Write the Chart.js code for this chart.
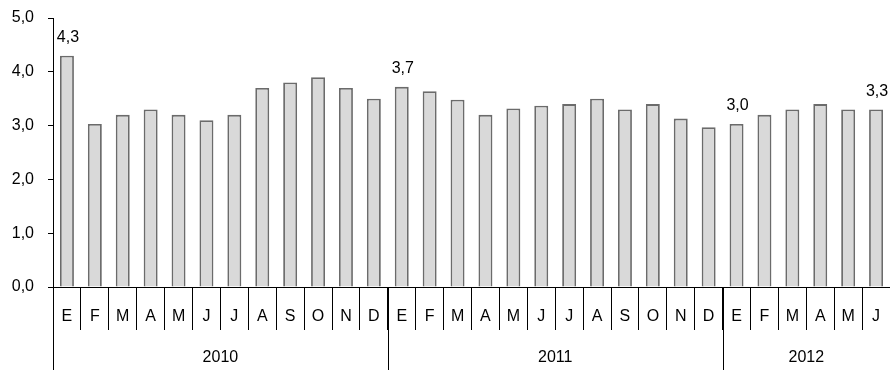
<!DOCTYPE html>
<html>
<head>
<meta charset="utf-8">
<script src="https://cdn.jsdelivr.net/npm/chart.js@4/dist/chart.umd.min.js"></script>
<style>
html,body{margin:0;padding:0;background:#fff;}
#wrap{width:890px;height:370px;position:relative;}
</style>
</head>
<body>
<div id="wrap"><canvas id="c"></canvas></div>
<script>
const months = ['E','F','M','A','M','J','J','A','S','O','N','D',
                'E','F','M','A','M','J','J','A','S','O','N','D',
                'E','F','M','A','M','J'];
const values = [4.3,3.03,3.2,3.3,3.2,3.1,3.2,3.7,3.8,3.9,3.7,3.5,
                3.72,3.64,3.48,3.2,3.32,3.37,3.4,3.5,3.3,3.4,3.13,2.97,
                3.03,3.2,3.3,3.4,3.3,3.3];
const years = ['2010','2011','2012'];
const yearCounts = [12,12,6];
const labeledIdx = [0,12,24,29];
const yTicks = [0,1,2,3,4,5];

const FONT = '"Liberation Sans", Arial, sans-serif';
const fmt = v => v.toFixed(1).replace('.', ',');

const extras = {
  id: 'extras',
  afterDraw(chart) {
    const ctx = chart.ctx;
    const xs = chart.scales.x;
    const area = chart.chartArea;
    const meta = chart.getDatasetMeta(0);
    ctx.save();
    let start = 0;
    const half = (xs.getPixelForValue(1) - xs.getPixelForValue(0)) / 2;
    ctx.strokeStyle = '#000';
    ctx.lineWidth = 1;
    ctx.fillStyle = '#000';
    ctx.font = '16px ' + FONT;
    ctx.textAlign = 'center';
    ctx.textBaseline = 'middle';
    years.forEach((y, i) => {
      const left = xs.getPixelForValue(start) - half;
      const right = xs.getPixelForValue(start + yearCounts[i] - 1) + half;
      const lx = Math.round(left) + 0.5;
      ctx.beginPath();
      ctx.moveTo(lx, area.bottom);
      ctx.lineTo(lx, chart.height);
      ctx.stroke();
      ctx.fillText(y, (left + right) / 2, 358);
      start += yearCounts[i];
    });
    labeledIdx.forEach(i => {
      const bar = meta.data[i];
      ctx.fillText(fmt(values[i]), bar.x + 1, bar.y - 18);
    });
    ctx.restore();
  }
};

new Chart(document.getElementById('c'), {
  type: 'bar',
  data: {
    labels: months,
    datasets: [{
      data: values,
      backgroundColor: '#d9d9d9',
      borderColor: '#6b6b6b',
      borderWidth: 1.8,
      borderSkipped: 'bottom',
      categoryPercentage: 1,
      barPercentage: 0.5
    }]
  },
  options: {
    responsive: true,
    maintainAspectRatio: false,
    animation: false,
    layout: { padding: { top: 18, right: 0, left: 0, bottom: 0 } },
    plugins: { legend: { display: false }, tooltip: { enabled: false } },
    scales: {
      x: {
        offset: true,
        grid: { offset: true, drawOnChartArea: false, drawTicks: true, tickLength: 43, color: '#000', lineWidth: 1 },
        border: { display: true, color: '#000', width: 1 },
        ticks: { color: '#000', font: { family: FONT, size: 16 }, padding: -23, maxRotation: 0, autoSkip: false },
        afterFit: s => { s.height = 83; s.paddingLeft = 0; s.paddingRight = 0; }
      },
      y: {
        min: 0, max: 5,
        afterBuildTicks: s => { s.ticks = yTicks.map(v => ({ value: v })); },
        grid: { drawOnChartArea: false, drawTicks: true, tickLength: 5, color: '#000', lineWidth: 1 },
        border: { display: true, color: '#000', width: 1 },
        ticks: { color: '#000', font: { family: FONT, size: 16 }, padding: 14, callback: v => fmt(v) },
        afterFit: s => { s.width = 53; s.paddingTop = 0; s.paddingBottom = 0; }
      }
    }
  },
  plugins: [extras]
});
</script>
</body>
</html>
